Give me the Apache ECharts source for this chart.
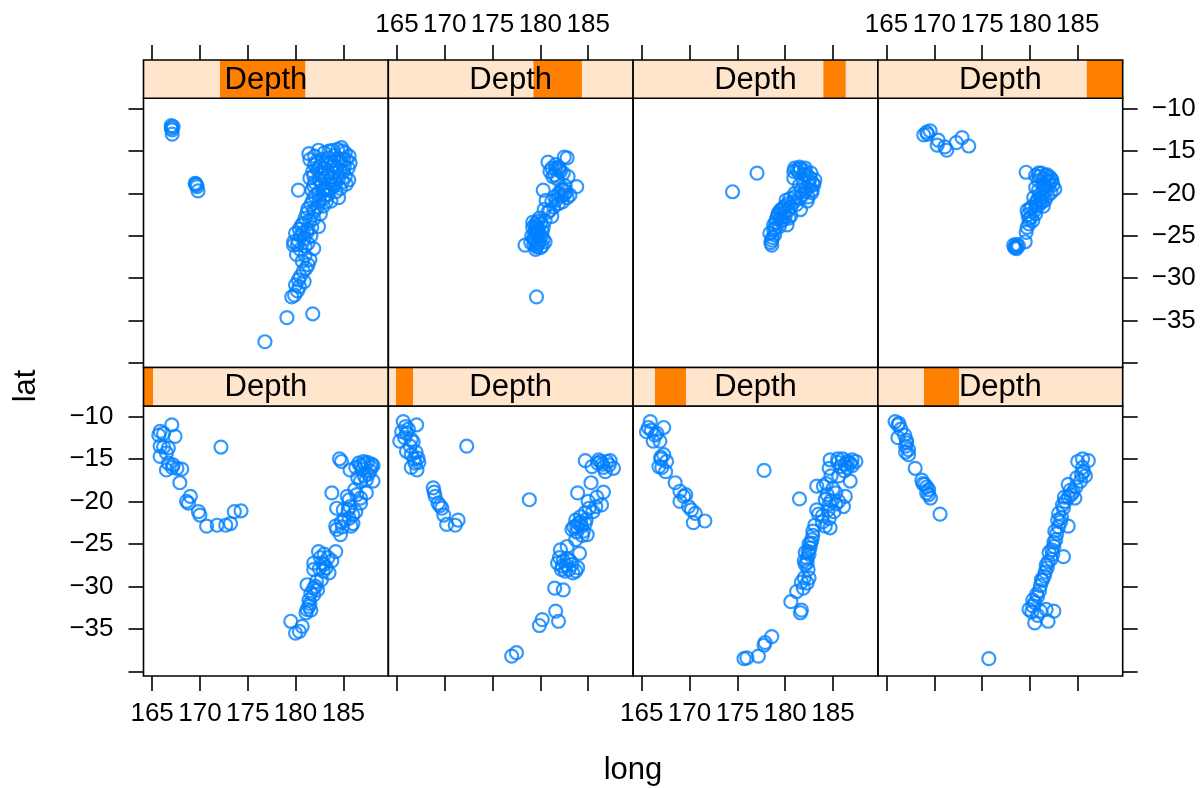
<!DOCTYPE html>
<html><head><meta charset="utf-8">
<script src="https://cdn.jsdelivr.net/npm/echarts@6/dist/echarts.min.js"></script>
<style>html,body{margin:0;padding:0;background:#fff}#c{width:1204px;height:788px}</style>
</head><body><div id="c"></div>
<script>
// shingle intervals of depth (8 levels, read from the strips)
const depthIntervals = [[39.5,64.4],[59.7,104.2],[96.8,178],[160.2,251.9],[239.8,463],[419.7,546.4],[537.8,596],[586.6,680.5]];
const depthRange = [39.5, 680.5];
const stripLabel = 'Depth';
const longTicks = [165,170,175,180,185];
const latTicks = [-10,-15,-20,-25,-30,-35,-40];
const latLabels = [-10,-15,-20,-25,-30,-35];
const longLimits = [164.1, 189.7];
const latLimits = [-40.54, -8.77];
const xTitle = 'long';
const yTitle = 'lat';

// [long, lat] per depth level
const p1 = [[167.06,-10.98],[165.84,-11.76],[165.7,-12.2],[166.2,-12.0],[167.4,-12.35],[165.84,-13.5],[166.7,-13.7],[166.2,-13.6],[165.84,-14.7],[166.5,-14.3],[166.7,-15.5],[167.2,-15.7],[166.5,-16.3],[167.6,-16.1],[168.1,-16.2],[167.1,-16.0],[167.9,-17.8],
[169.0,-19.4],[168.6,-20.0],[168.8,-20.2],[169.85,-21.2],[170.0,-21.6],[170.7,-22.9],[171.8,-22.8],[172.7,-22.8],[173.2,-22.6],[173.6,-21.2],[174.3,-21.1],[172.2,-13.6],
[184.6,-14.98],[185.7,-16.3],[187.1,-15.3],[187.97,-15.6],[188.1,-15.8],[186.8,-15.8],[187.5,-15.4],[187.8,-16.4],[187.4,-17.45],[188.1,-17.6],[186.8,-17.6],
[183.8,-19.0],[185.4,-19.4],[186.4,-19.2],[187.4,-19.0],[186.8,-20.2],[185.7,-20.6],[184.3,-20.8],[186.0,-21.6],[185.1,-22.2],[186.0,-22.6],[184.3,-23.3],[184.7,-23.9],[184.2,-22.9],[185.5,-21.0],
[182.4,-25.9],[184.2,-25.9],[181.9,-27.25],[182.8,-27.25],[183.8,-27.0],[181.9,-28.0],[183.5,-28.4],[182.7,-29.2],[182.6,-26.6],[183.2,-27.8],
[181.2,-29.8],[182.3,-30.4],[181.6,-30.8],[181.4,-32.35],[181.1,-33.1],[181.6,-32.8],[180.7,-34.7],[179.5,-34.1],[180.0,-35.5],[180.4,-35.3],
[187.0,-16.2],[186.3,-16.0],[187.6,-16.8],[185.6,-19.8],[185.0,-21.0],[184.8,-22.4],[185.6,-22.0],[183.0,-26.2],[182.9,-28.2],[182.2,-29.4],[181.9,-30.2],[181.4,-31.6],[184.8,-15.3],[186.2,-18.6],
[187.2,-15.6],[186.6,-15.5],[187.9,-16.0],[187.2,-17.0],[186.5,-17.2],[186.8,-19.6],[186.3,-21.2],[185.8,-22.9],[184.9,-23.0],[183.4,-26.6],[183.0,-27.4],[182.5,-27.9],[182.1,-30.0],[181.9,-31.0],[181.5,-32.0],[181.2,-32.7]];
const p2 = [[165.66,-10.6],[167.06,-10.98],[165.5,-11.8],[166.0,-12.0],[165.9,-11.2],[165.3,-12.9],[166.5,-12.7],[166.0,-14.1],[166.4,-13.5],[167.2,-14.9],[166.9,-15.5],[167.1,-16.3],[166.5,-16.0],[167.3,-15.4],
[172.3,-13.5],
[168.8,-18.4],[169.0,-19.4],[168.9,-18.9],[169.3,-20.2],[169.7,-20.8],[169.9,-21.6],[170.2,-22.7],[171.1,-22.8],[171.4,-22.2],
[178.85,-19.8],
[184.7,-15.2],[186.1,-15.1],[186.95,-15.3],[187.65,-16.1],[186.8,-16.5],[185.4,-15.9],[186.5,-15.6],[187.2,-15.7],
[185.3,-17.8],[186.6,-18.9],[183.9,-19.0],[185.0,-20.0],[186.4,-20.4],[185.8,-20.6],[185.5,-21.2],[184.7,-21.3],[183.7,-22.2],[184.3,-22.9],[183.3,-23.3],[184.9,-23.9],[183.7,-24.5],[184.0,-22.6],[183.5,-23.0],[184.5,-23.5],
[182.1,-25.7],[182.8,-25.3],[184.1,-26.1],[181.8,-27.25],[182.7,-27.5],[183.7,-28.2],[183.0,-28.0],[182.3,-27.6],[183.3,-27.4],
[181.5,-30.2],[182.4,-30.4],[181.6,-32.9],[181.9,-34.1],[180.2,-33.9],[179.9,-34.6],[177.5,-37.8],[177.0,-38.2],
[186.0,-15.5],[186.6,-16.0],[185.9,-19.5],[185.1,-20.8],[184.2,-21.8],[183.8,-23.6],[184.4,-24.0],[182.8,-26.7],[182.0,-26.6],[183.9,-27.8],[182.6,-28.2],[165.8,-12.5],[166.7,-13.0],[167.0,-14.2],[169.5,-20.5],
[186.3,-15.3],[187.3,-15.2],[184.8,-22.1],[184.2,-22.4],[183.8,-22.9],[184.7,-22.6],[183.1,-27.0],[182.4,-27.0],[183.4,-28.4],[182.2,-28.0],[166.2,-11.5],[166.5,-14.5],[166.8,-15.0]];
const p3 = [[165.9,-10.6],[167.3,-11.3],[165.5,-11.8],[166.4,-12.2],[166.2,-12.9],[166.9,-12.9],[165.7,-11.3],[167.3,-14.5],[166.8,-15.9],[167.5,-16.5],[167.6,-15.3],[167.0,-15.0],[167.1,-16.0],
[168.5,-17.8],[169.0,-18.8],[169.4,-19.4],[169.0,-20.0],[169.9,-20.6],[170.6,-21.4],[170.4,-22.5],[171.6,-22.3],[169.6,-19.2],[170.2,-21.0],
[177.8,-16.35],[181.5,-19.7],
[184.7,-15.1],[186.5,-15.3],[187.4,-15.3],[185.8,-15.9],[184.6,-16.1],[186.8,-15.5],[187.0,-15.8],[186.2,-16.4],
[186.8,-17.6],[183.3,-18.2],[184.0,-18.2],[185.6,-17.0],[185.3,-19.0],[186.3,-19.4],[184.2,-19.8],[186.1,-20.6],[185.1,-21.2],[183.9,-21.7],[184.6,-20.3],[185.6,-20.0],[184.7,-23.1],[182.9,-23.5],[183.9,-22.4],[184.2,-22.9],
[182.8,-24.5],[182.6,-25.5],[182.4,-25.9],[182.3,-26.7],[182.1,-27.4],[182.4,-28.0],[182.7,-24.9],[182.5,-26.2],
[182.3,-29.6],[181.9,-30.2],[181.2,-30.6],[180.6,-31.8],[181.6,-33.1],[181.7,-32.8],
[178.6,-35.9],[177.8,-36.9],[177.9,-36.6],[177.2,-38.2],[176.0,-38.4],[175.7,-38.5],
[186.0,-15.0],[187.0,-15.1],[185.5,-15.4],[184.8,-17.0],[184.3,-17.9],[185.0,-18.5],[184.5,-21.0],[183.3,-21.0],[183.1,-22.8],[182.9,-24.0],[182.1,-26.0],[182.0,-27.0],[182.5,-29.0],[166.0,-11.6],[166.6,-12.0],[167.0,-14.8],
[185.5,-15.0],[186.3,-15.6],[186.5,-16.0],[184.4,-19.2],[184.8,-19.9],[185.3,-20.3],[183.5,-21.5],[184.6,-22.0],[182.5,-25.0],[182.3,-27.2],[181.7,-29.5],[182.0,-29.0]];
const p4 = [[165.9,-10.6],[166.2,-11.0],[166.3,-10.8],[166.9,-12.2],[166.2,-12.5],[167.1,-13.1],[167.3,-13.9],[167.0,-13.5],[167.3,-14.5],[167.0,-14.2],
[168.0,-16.1],[168.7,-17.5],[169.0,-18.0],[169.4,-18.6],[169.2,-18.3],[169.6,-19.6],[169.4,-19.2],[170.6,-21.5],
[175.7,-38.5],
[186.1,-15.2],[185.0,-15.3],[185.8,-17.0],[185.3,-17.6],[185.6,-16.5],[184.2,-18.7],[184.8,-18.3],[184.7,-19.6],[183.7,-20.0],[184.3,-19.2],[183.0,-21.4],[183.5,-20.8],[184.0,-22.9],[182.6,-23.5],[182.9,-22.2],
[182.3,-25.7],[183.5,-26.5],[181.9,-27.1],[182.5,-25.3],[182.4,-26.2],[181.6,-28.3],[181.8,-27.8],[181.1,-29.9],[181.3,-29.3],[180.5,-31.9],[180.8,-31.2],[179.9,-32.7],[180.5,-34.3],[181.7,-32.7],[182.5,-32.9],[181.9,-34.1],[180.2,-33.0],
[185.5,-16.0],[184.9,-17.2],[184.0,-18.0],[183.6,-19.5],[183.3,-21.9],[183.0,-23.0],[182.7,-24.5],[182.2,-26.8],[181.5,-28.8],[181.0,-30.5],[180.3,-32.3],[166.5,-11.5],[167.1,-12.8],[168.8,-17.9],[169.2,-19.0],
[185.5,-15.0],[185.4,-16.8],[184.5,-18.9],[184.0,-19.5],[183.4,-20.4],[183.2,-22.4],[182.8,-23.8],[182.5,-24.8],[182.0,-26.0],[181.7,-27.5],[181.2,-29.2],[180.7,-30.9],[180.3,-31.6],[181.1,-32.9],[180.8,-33.4]];
const p5 = [[167.0,-12.0],[167.2,-12.1],[167.0,-12.3],[167.1,-12.5],[167.1,-13.0],
[169.5,-18.8],[169.6,-18.9],[169.7,-19.2],[169.6,-19.0],[169.8,-19.7],
[181.4,-15.3],[182.4,-14.9],[183.0,-15.2],[183.5,-15.0],[184.4,-14.8],[184.9,-15.0],[185.2,-15.2],[185.6,-15.6],[185.3,-16.0],[184.7,-16.3],[183.7,-16.2],[182.8,-16.0],[182.0,-16.6],
[181.8,-17.4],[182.3,-17.2],[182.8,-17.8],[183.4,-17.5],[184.0,-17.6],[184.6,-17.2],[185.0,-17.4],[185.56,-18.4],[184.9,-18.6],[184.2,-18.8],[183.5,-18.5],[182.7,-18.9],[182.0,-18.7],[181.5,-18.2],
[180.3,-19.6],[181.7,-19.6],[182.4,-19.9],[183.4,-20.15],[184.2,-19.8],[184.7,-19.4],[183.7,-20.9],[182.9,-20.6],[182.3,-21.6],[181.6,-21.3],[181.2,-22.3],[181.9,-22.2],
[181.0,-22.9],[180.6,-23.8],[182.4,-23.9],[181.3,-24.2],[180.0,-24.7],[180.9,-25.3],[179.8,-25.7],[181.3,-25.9],[179.8,-26.1],[181.9,-26.5],[180.5,-26.6],[181.0,-27.3],
[181.1,-28.85],[180.5,-29.8],[180.9,-30.4],[180.0,-30.8],[180.4,-31.0],[179.6,-32.2],[179.9,-32.0],
[179.1,-34.66],[181.8,-34.2],[176.8,-37.5],
[182.0,-15.6],[183.2,-16.4],[184.1,-15.5],[185.7,-16.4],[185.1,-16.8],[184.3,-17.0],[183.0,-17.0],[182.5,-18.3],[183.1,-19.3],[184.0,-19.1],[185.2,-18.0],[183.8,-18.0],[182.0,-20.3],[182.9,-21.5],[181.8,-20.8],[183.3,-19.6],[184.5,-20.5],[182.6,-22.4],[181.5,-23.2],[181.9,-23.0],[180.8,-24.6],[181.6,-25.0],[180.3,-25.6],[180.1,-27.2],[181.3,-28.4],[180.7,-28.0],[180.2,-31.5],[181.2,-24.6],[184.0,-16.8],[182.6,-17.6],
[181.5,-16.0],[182.2,-16.2],[183.5,-15.8],[184.5,-15.9],[185.0,-16.0],[183.9,-16.6],[182.5,-16.8],[181.9,-17.9],[183.0,-18.2],[183.8,-18.9],[184.5,-18.2],[185.3,-18.9],[182.9,-19.6],[183.6,-19.5],[181.9,-19.1],[182.5,-20.8],[183.1,-20.2],[182.0,-21.9],[183.2,-21.0],[181.3,-21.8],[180.8,-23.5],[181.7,-24.0],[180.4,-24.2],[180.5,-25.0],[181.0,-26.2],[180.2,-26.0],[181.5,-27.8],[180.8,-29.2],[180.3,-30.2],[185.5,-17.0],[184.8,-14.6],[183.9,-14.9]];
const p6 = [[182.8,-15.8],[182.5,-15.7],[180.8,-16.3],[181.2,-17.0],[181.0,-17.4],[181.5,-17.8],[182.4,-17.6],[181.3,-18.0],
[183.8,-19.2],[180.3,-19.6],[182.6,-19.1],[182.5,-20.15],[181.7,-20.7],[181.2,-20.9],[182.2,-20.3],[181.9,-21.2],[182.8,-20.5],
[180.4,-21.9],[181.2,-22.7],[179.7,-23.3],[179.5,-24.1],[180.2,-24.5],[179.3,-25.3],[180.5,-25.7],[178.4,-26.1],[179.6,-26.3],[179.7,-24.9],[180.0,-23.6],[179.4,-24.6],[180.1,-25.0],[179.8,-25.8],[179.3,-26.0],[180.2,-26.2],[179.6,-23.9],
[179.6,-32.2],
[181.6,-16.6],[182.0,-17.2],[181.8,-18.3],[182.2,-19.5],[181.5,-20.4],[182.7,-19.8],[180.8,-22.2],[179.9,-22.9],[179.2,-24.0],[179.1,-25.0],[179.0,-25.8],[179.5,-26.6],[180.3,-24.0],[179.8,-24.4],[179.2,-23.4],[180.6,-20.8],[181.4,-21.6],
[179.6,-24.4],[179.9,-25.5],[179.4,-25.6],[180.3,-25.4],[179.7,-26.0],[180.0,-26.4],[179.5,-23.6],[180.5,-23.2],[181.0,-22.0],[181.9,-20.0],[182.3,-21.0],[182.1,-17.4],[181.6,-17.0],[181.9,-16.9],[182.4,-19.6],[183.1,-20.2],[182.9,-18.0]];
const p7 = [[177.06,-17.6],[174.5,-19.8],
[181.25,-17.2],[181.6,-17.1],[182.0,-17.3],[182.3,-17.8],[182.6,-18.2],[183.0,-19.0],[182.8,-19.6],[182.8,-19.9],[182.3,-20.9],[181.6,-21.9],
[180.9,-17.4],[180.9,-18.2],[181.9,-18.6],[182.2,-19.3],[181.5,-19.0],[180.5,-20.6],[181.0,-20.4],[181.8,-20.2],[181.2,-21.3],[180.6,-21.6],[179.8,-21.7],[179.5,-22.9],[180.2,-23.7],[178.8,-23.7],[179.3,-22.3],[180.0,-22.7],[178.4,-24.7],[178.6,-26.1],[178.6,-25.5],[179.0,-24.1],[179.6,-23.3],
[181.4,-17.5],[182.0,-17.8],[182.5,-18.6],[182.9,-18.8],[181.7,-19.6],[182.4,-20.4],[180.9,-21.0],[180.3,-22.0],[179.9,-22.3],[179.1,-23.0],[180.6,-22.6],[179.4,-23.9],[178.9,-24.9],[178.7,-25.2],[179.6,-21.9],[180.1,-20.8],
[181.0,-17.0],[181.5,-16.9],[182.1,-17.0],[182.7,-17.6],[183.1,-18.4],[182.5,-19.1],[182.1,-19.8],[181.5,-20.6],[181.0,-20.0],[180.3,-21.2],[180.0,-21.5],[179.5,-22.0],[179.2,-22.6],[179.0,-23.4],[180.4,-22.9],[179.8,-23.1],[178.8,-24.3],[178.5,-25.8]];
const p8 = [[169.2,-12.76],[169.56,-12.6],[168.9,-13.1],[169.3,-13.0],[170.4,-13.7],[170.3,-14.3],[171.3,-14.9],[171.1,-14.5],[172.3,-14.0],[172.9,-13.4],[173.6,-14.4],
[179.6,-17.5],[180.6,-17.9],[181.6,-17.9],[182.1,-18.1],[181.2,-17.6],[181.9,-18.6],[182.6,-19.5],[180.6,-19.3],[181.9,-20.2],[181.25,-21.0],[181.5,-19.0],[180.9,-18.5],[182.2,-19.9],[181.0,-20.2],[180.7,-21.5],[180.2,-21.6],
[179.7,-22.0],[180.6,-22.4],[180.1,-22.8],[179.7,-24.0],[179.9,-23.6],[179.5,-25.7],[178.5,-26.3],[178.6,-26.5],[178.3,-26.1],[178.6,-26.0],
[181.0,-18.0],[181.4,-18.3],[182.0,-19.0],[181.7,-19.6],[181.3,-20.4],[180.8,-20.7],[181.6,-20.8],[181.0,-21.3],[180.4,-20.5],[182.3,-18.4],[179.8,-22.5],[180.3,-23.2],
[180.9,-17.6],[181.8,-17.8],[182.2,-18.6],[181.4,-19.3],[180.9,-19.6],[181.7,-19.1],[182.4,-19.0],[181.1,-20.8],[180.6,-21.1],[181.4,-21.5],[180.5,-22.0],[180.0,-21.8],[179.9,-23.0],[179.6,-24.6],[178.4,-26.4],[178.8,-26.2]];
const panels = [p1,p2,p3,p4,p5,p6,p7,p8];

// ---------- layout ----------
const FONT = '"Liberation Sans", Arial, Helvetica, sans-serif';
const colLeft = [143.5, 388.3, 633.1, 877.9];
const colW = 244.8;
const rows = [
  {stripTop: 367.5, stripH: 38.5, panelTop: 406, panelH: 270},   // bottom row: levels 1-4
  {stripTop: 60, stripH: 38.3, panelTop: 98.3, panelH: 269.2}    // top row: levels 5-8
];
const LW = 1.6;
const minus = v => String(v).replace('-', '\u2212');

const grids = [], xAxes = [], yAxes = [], series = [];
panels.forEach((pts, p) => {
  const r = p < 4 ? 0 : 1, c = p % 4, L = rows[r];
  grids.push({left: colLeft[c], top: L.panelTop, width: colW, height: L.panelH,
    show: true, borderColor: '#000', borderWidth: LW, backgroundColor: 'transparent', containLabel: false});
  const showXLab = r === 0 ? (c === 0 || c === 2) : (c === 1 || c === 3);
  xAxes.push({type: 'value', gridIndex: p, min: longLimits[0], max: longLimits[1],
    position: r === 0 ? 'bottom' : 'top', offset: r === 0 ? 0 : L.stripH,
    axisLine: {show: false}, splitLine: {show: false},
    axisTick: {show: true, customValues: longTicks, length: 15, inside: false, lineStyle: {color: '#000', width: LW}},
    axisLabel: {show: showXLab, customValues: longTicks, margin: r === 0 ? 25 : 22, fontSize: 26, color: '#000', fontFamily: FONT, hideOverlap: false}
  });
  const yShowTick = (c === 0 || c === 3);
  const showYLab = (r === 0 && c === 0) || (r === 1 && c === 3);
  yAxes.push({type: 'value', gridIndex: p, min: latLimits[0], max: latLimits[1],
    position: c === 3 ? 'right' : 'left',
    axisLine: {show: false}, splitLine: {show: false},
    axisTick: {show: yShowTick, customValues: latTicks, length: 15, inside: false, lineStyle: {color: '#000', width: LW}},
    axisLabel: {show: showYLab, customValues: latLabels, margin: c === 3 ? 29 : 30, fontSize: 26, color: '#000', fontFamily: FONT,
      formatter: v => minus(v)}
  });
  series.push({type: 'scatter', xAxisIndex: p, yAxisIndex: p, data: pts, symbol: 'circle', symbolSize: 13,
    itemStyle: {color: 'rgba(0,0,0,0)', borderColor: '#0080ff', borderWidth: 2.2},
    silent: true, animation: false, clip: true, z: 3});
});
// strips
depthIntervals.forEach((iv, p) => {
  const r = p < 4 ? 0 : 1, c = p % 4, L = rows[r];
  const gi = 8 + p;
  grids.push({left: colLeft[c], top: L.stripTop, width: colW, height: L.stripH, show: false});
  xAxes.push({type: 'value', gridIndex: gi, min: depthRange[0], max: depthRange[1], show: false});
  yAxes.push({type: 'value', gridIndex: gi, min: 0, max: 1, show: false});
  series.push({type: 'custom', xAxisIndex: gi, yAxisIndex: gi, data: [[iv[0], iv[1]]], silent: true, animation: false,
    encode: {x: [0, 1]},
    renderItem: (params, api) => {
      const cs = params.coordSys;
      const a = api.coord([api.value(0), 1]);
      const b = api.coord([api.value(1), 0]);
      return {type: 'group', children: [
        {type: 'rect', shape: {x: cs.x, y: cs.y, width: cs.width, height: cs.height}, style: {fill: '#ffe5cc'}},
        {type: 'rect', shape: {x: a[0], y: cs.y, width: b[0] - a[0], height: cs.height}, style: {fill: '#ff7f00'}},
        {type: 'text', x: cs.x + cs.width / 2, y: cs.y + cs.height / 2 + 1,
          style: {text: stripLabel, fill: '#000', fontSize: 31, fontFamily: FONT, align: 'center', verticalAlign: 'middle'}},
        {type: 'rect', shape: {x: cs.x, y: cs.y, width: cs.width, height: cs.height}, style: {fill: 'none', stroke: '#000', lineWidth: LW}}
      ]};
    }
  });
});

const chart = echarts.init(document.getElementById('c'), null, {renderer: 'canvas'});
chart.setOption({
  animation: false,
  backgroundColor: '#fff',
  grid: grids, xAxis: xAxes, yAxis: yAxes, series: series,
  graphic: [
    {type: 'text', x: 633, y: 770, style: {text: xTitle, fill: '#000', fontSize: 31, fontFamily: FONT, align: 'center', verticalAlign: 'middle'}},
    {type: 'text', x: 26, y: 386, rotation: Math.PI / 2, style: {text: yTitle, fill: '#000', fontSize: 31, fontFamily: FONT, align: 'center', verticalAlign: 'middle'}}
  ]
});
</script></body></html>
